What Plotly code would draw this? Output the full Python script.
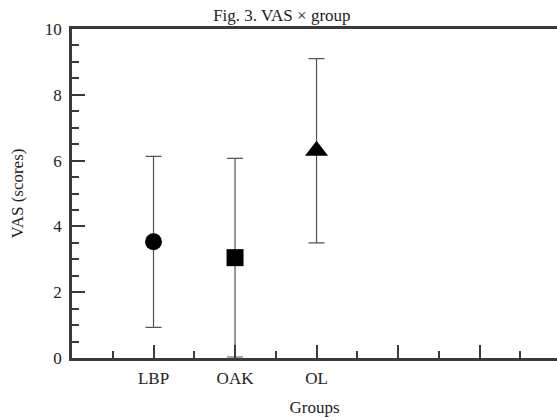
import plotly.graph_objects as go

groups = ["LBP", "OAK", "OL"]
positions = [1, 2, 3]
vas_mean = [3.53, 3.05, 6.3]
vas_sd = [2.6, 3.02, 2.8]
symbols = ["circle", "square", "triangle-up"]
x_tick_vals = [1, 2, 3, 4, 5]
x_tick_text = ["LBP", "OAK", "OL", "", ""]
y_tick_vals = [0, 2, 4, 6, 8, 10]

font = "Liberation Serif, Times New Roman, serif"
axcol = "#3a3a3a"
txtcol = "#222222"

fig = go.Figure()
for x, m, s, sym in zip(positions, vas_mean, vas_sd, symbols):
    fig.add_trace(go.Scatter(
        x=[x], y=[m], mode="markers",
        marker=dict(symbol=sym, size=17 if sym != "triangle-up" else 20, color="black"),
        error_y=dict(type="data", array=[s], visible=True, color="#555555", thickness=1.2, width=8),
        showlegend=False,
    ))

fig.update_layout(
    width=557, height=417,
    margin=dict(l=72, r=0, t=29, b=59, autoexpand=False),
    paper_bgcolor="white", plot_bgcolor="white",
    font=dict(family=font, size=17, color=txtcol),
    title=dict(text="Fig. 3. VAS × group", x=241 / 557, xanchor="center", xref="paper",
               y=1 - 15 / 417, yref="container", yanchor="middle",
               font=dict(family=font, size=17, color=txtcol), automargin=False),
    xaxis=dict(
        range=[0, 5.95], tickmode="array", tickvals=x_tick_vals, ticktext=x_tick_text,
        ticks="inside", ticklen=13, tickwidth=1.5, tickcolor=axcol,
        minor=dict(tickvals=[0.5, 1.5, 2.5, 3.5, 4.5, 5.5], ticks="inside", ticklen=7, tickwidth=1.5, tickcolor=axcol),
        showline=True, linecolor=axcol, linewidth=2.5, mirror=True,
        showgrid=False, zeroline=False, ticklabelstandoff=3, automargin=False,
        title=dict(text="Groups", standoff=15, font=dict(family=font, size=17)),
    ),
    yaxis=dict(
        range=[0, 10], tickmode="array", tickvals=y_tick_vals,
        ticks="inside", ticklen=13, tickwidth=1.5, tickcolor=axcol,
        minor=dict(dtick=0.5, tick0=0, ticks="inside", ticklen=7, tickwidth=1.5, tickcolor=axcol),
        showline=True, linecolor=axcol, linewidth=2.5, mirror=True,
        showgrid=False, zeroline=False, ticklabelstandoff=4, automargin=False,
        title=dict(text="VAS (scores)", standoff=17, font=dict(family=font, size=17)),
    ),
)

fig.write_html("out.html", config={"displayModeBar": False},
               post_script="document.body.style.margin='0';")
